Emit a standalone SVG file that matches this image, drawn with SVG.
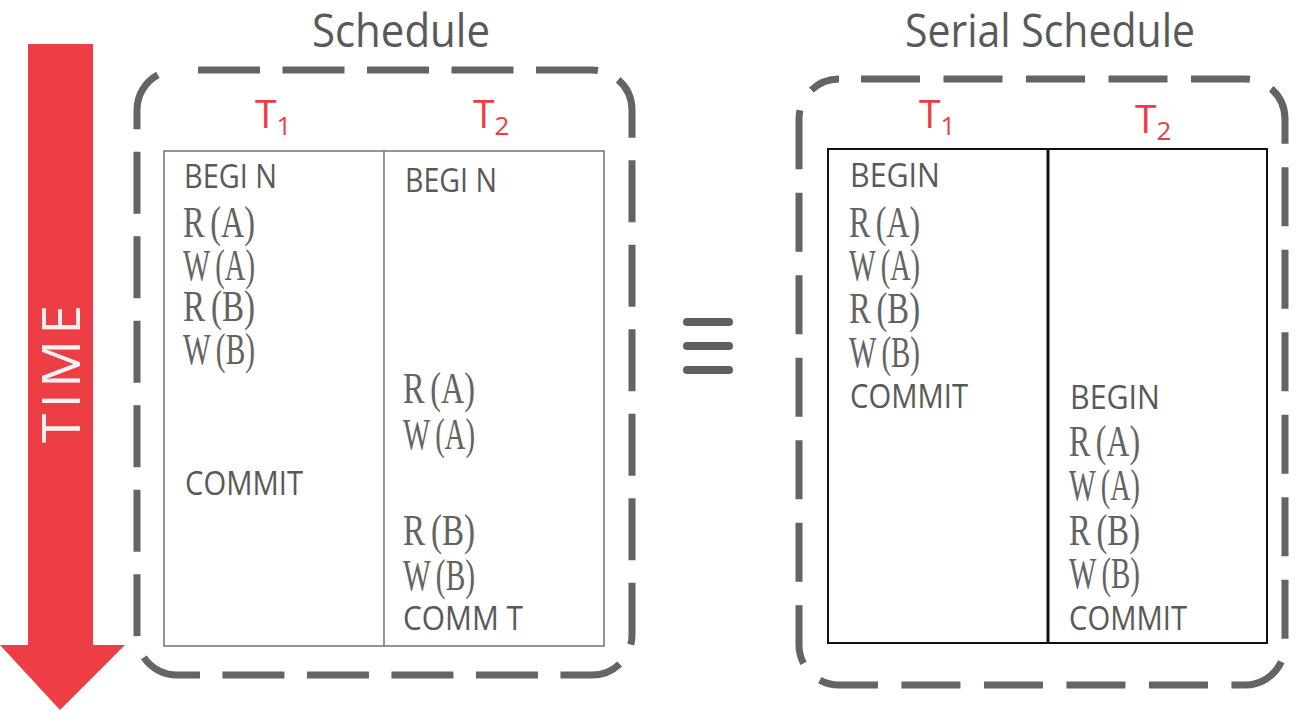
<svg xmlns="http://www.w3.org/2000/svg" width="1311" height="716" viewBox="0 0 1311 716">
<style>
.title{font-family:"Open Sans","Liberation Sans",sans-serif;font-size:45px;fill:#595959}
.tl{font-family:"Open Sans","Liberation Sans",sans-serif;font-size:39px;fill:#ee3b43}
.sub{font-size:26px}
.kw{font-family:"Open Sans","Liberation Sans",sans-serif;font-size:32px;fill:#595959}
.op{font-family:"Liberation Serif","DejaVu Serif",serif;font-size:34px;fill:#636363}
.dash{fill:none;stroke:#646464;stroke-width:7}
.tblL{fill:#fff;stroke:#7a7a7a;stroke-width:1.6}
.tblR{fill:#fff;stroke:#111;stroke-width:2}
</style>
<rect width="1311" height="716" fill="#fff"/>
<g id="time-arrow">
<polygon points="28,44 93,44 93,645 125,645 60,710 0,645 28,645" fill="#ee3e45"/>
<text transform="translate(80,374) rotate(-90)" text-anchor="middle" font-family="Open Sans, Liberation Sans, sans-serif" font-size="53" fill="#f2f2f2" textLength="138" lengthAdjust="spacing">TIME</text>
</g>
<g id="schedule">
<text class="title" x="312" y="47" textLength="178" lengthAdjust="spacingAndGlyphs">Schedule</text>
<rect class="dash" x="137" y="70" width="495" height="605" rx="40" stroke-dasharray="62 22.5" stroke-dashoffset="63.5"/>
<text class="tl" x="255" y="128">T<tspan class="sub" dy="7">1</tspan></text>
<text class="tl" x="473" y="128">T<tspan class="sub" dy="7">2</tspan></text>
<rect class="tblL" x="164" y="151" width="440" height="495"/>
<line x1="384" y1="151" x2="384" y2="646" stroke="#7a7a7a" stroke-width="1.6"/>
<text class="kw" x="184" y="188" textLength="93" lengthAdjust="spacingAndGlyphs">BEGI N</text>
<text class="op" transform="translate(183,237) scale(1,1.3)" dx="0 6" textLength="72" lengthAdjust="spacingAndGlyphs">R(A)</text>
<text class="op" transform="translate(183,280) scale(1,1.3)" dx="0 6" textLength="72" lengthAdjust="spacingAndGlyphs">W(A)</text>
<text class="op" transform="translate(183,321) scale(1,1.3)" dx="0 6" textLength="72" lengthAdjust="spacingAndGlyphs">R(B)</text>
<text class="op" transform="translate(183,364) scale(1,1.3)" dx="0 6" textLength="72" lengthAdjust="spacingAndGlyphs">W(B)</text>
<text class="kw" x="185" y="495" textLength="118" lengthAdjust="spacingAndGlyphs">COMMIT</text>
<text class="kw" x="405" y="192" textLength="92" lengthAdjust="spacingAndGlyphs">BEGI N</text>
<text class="op" transform="translate(403,403) scale(1,1.3)" dx="0 6" textLength="72" lengthAdjust="spacingAndGlyphs">R(A)</text>
<text class="op" transform="translate(403,449) scale(1,1.3)" dx="0 6" textLength="72" lengthAdjust="spacingAndGlyphs">W(A)</text>
<text class="op" transform="translate(403,545) scale(1,1.3)" dx="0 6" textLength="72" lengthAdjust="spacingAndGlyphs">R(B)</text>
<text class="op" transform="translate(403,590) scale(1,1.3)" dx="0 6" textLength="72" lengthAdjust="spacingAndGlyphs">W(B)</text>
<text class="kw" x="403" y="630" textLength="120" lengthAdjust="spacingAndGlyphs">COMM T</text>
</g>
<g id="equivalent" stroke="#5f5f5f" stroke-width="8" stroke-linecap="round">
<line x1="687" y1="322" x2="729" y2="322"/>
<line x1="687" y1="346" x2="729" y2="346"/>
<line x1="687" y1="370" x2="729" y2="370"/>
</g>
<g id="serial-schedule">
<text class="title" x="905" y="47" textLength="290" lengthAdjust="spacingAndGlyphs">Serial Schedule</text>
<rect class="dash" x="799" y="79" width="486" height="606" rx="40" stroke-dasharray="59 23.5" stroke-dashoffset="60.5"/>
<text class="tl" x="919" y="128">T<tspan class="sub" dy="7">1</tspan></text>
<text class="tl" x="1135" y="133">T<tspan class="sub" dy="7">2</tspan></text>
<rect class="tblR" x="828" y="149" width="439" height="494"/>
<line x1="1048" y1="149" x2="1048" y2="643" stroke="#111" stroke-width="3"/>
<text class="kw" x="850" y="187" textLength="90" lengthAdjust="spacingAndGlyphs">BEGIN</text>
<text class="op" transform="translate(849,237) scale(1,1.3)" dx="0 6" textLength="71" lengthAdjust="spacingAndGlyphs">R(A)</text>
<text class="op" transform="translate(849,280) scale(1,1.3)" dx="0 6" textLength="71" lengthAdjust="spacingAndGlyphs">W(A)</text>
<text class="op" transform="translate(849,323) scale(1,1.3)" dx="0 6" textLength="71" lengthAdjust="spacingAndGlyphs">R(B)</text>
<text class="op" transform="translate(849,367) scale(1,1.3)" dx="0 6" textLength="71" lengthAdjust="spacingAndGlyphs">W(B)</text>
<text class="kw" x="850" y="408" textLength="118" lengthAdjust="spacingAndGlyphs">COMMIT</text>
<text class="kw" x="1070" y="409" textLength="90" lengthAdjust="spacingAndGlyphs">BEGIN</text>
<text class="op" transform="translate(1069,456) scale(1,1.3)" dx="0 6" textLength="71" lengthAdjust="spacingAndGlyphs">R(A)</text>
<text class="op" transform="translate(1069,500) scale(1,1.3)" dx="0 6" textLength="71" lengthAdjust="spacingAndGlyphs">W(A)</text>
<text class="op" transform="translate(1069,545) scale(1,1.3)" dx="0 6" textLength="71" lengthAdjust="spacingAndGlyphs">R(B)</text>
<text class="op" transform="translate(1069,588) scale(1,1.3)" dx="0 6" textLength="71" lengthAdjust="spacingAndGlyphs">W(B)</text>
<text class="kw" x="1069" y="630" textLength="118" lengthAdjust="spacingAndGlyphs">COMMIT</text>
</g>
</svg>
